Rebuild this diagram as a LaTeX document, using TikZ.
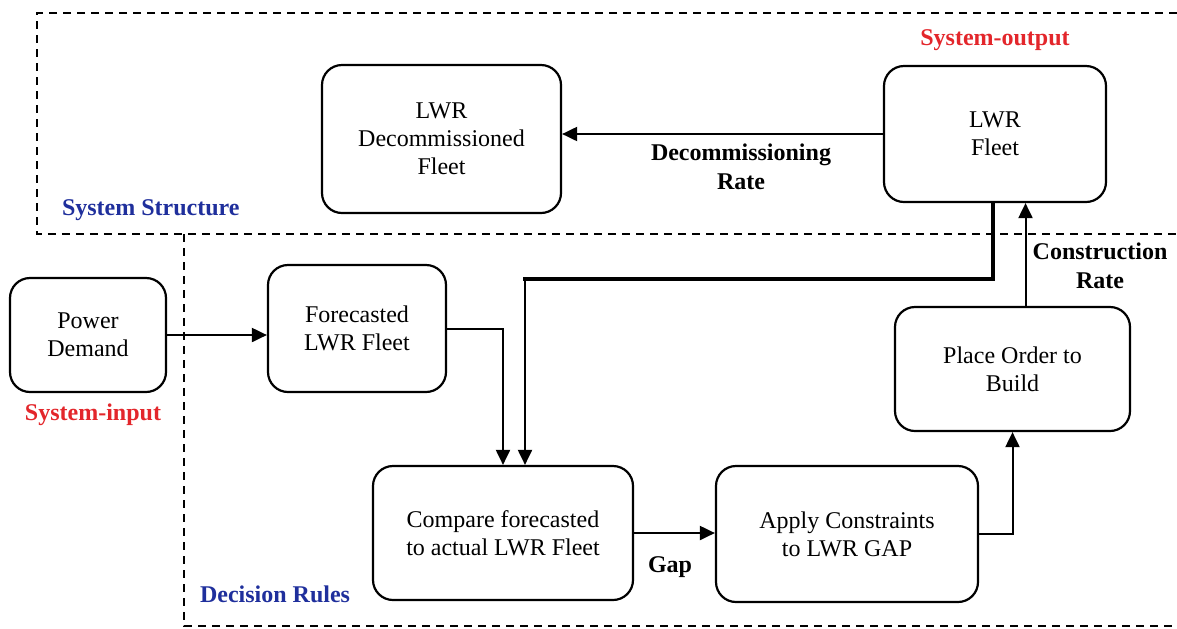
\documentclass[tikz,border=0pt]{standalone}
\usepackage{fontspec}
\setmainfont{Liberation Serif}
\usetikzlibrary{arrows.meta,positioning}
\definecolor{sdRed}{HTML}{E3262B}
\definecolor{sdBlue}{HTML}{1F2F9C}
\tikzset{
  % Stocks and decision steps: plain rounded boxes.
  sd/box/.style={
    draw=black, line width=1.1pt, rounded corners=10pt,
    align=center, inner sep=2pt, font=\fontsize{12}{14}\selectfont
  },
  % Flows between boxes.
  sd/arrow/.style={
    -{Triangle[length=7.5pt,width=7pt]}, line width=1pt, draw=black
  },
  % Feedback of the actual fleet, drawn heavier.
  sd/thick/.style={line width=2.2pt, draw=black},
  % Region borders.
  sd/lane/.style={dash pattern=on 4pt off 3pt, line width=1.3pt},
  % Flow names.
  sd/label/.style={font=\fontsize{12}{14.5}\selectfont\bfseries, align=center},
  % Region names.
  sd/title/.style={font=\fontsize{12}{14}\selectfont\bfseries, anchor=west, text=sdBlue},
}

\begin{document}
\begin{tikzpicture}[x=0.5pt,y=-0.5pt,
  io/.style={font=\fontsize{12}{14}\selectfont\bfseries, text=sdRed}]
  \useasboundingbox (0,0) rectangle (1177,628);
  % regions
  \draw[sd/lane] (1177,13) -- (37,13) -- (37,234) -- (1177,234);
  \draw[sd/lane] (184,234) -- (184,626) -- (1177,626);
  \node[sd/title] (structure) at (55,210) {System Structure};
  \node[sd/title] (rules) at (193,594) {Decision Rules};
  % boxes
  \node[sd/box, minimum width=119.5pt, minimum height=74pt] (decom) at (441.5,139) {LWR\\Decommissioned\\Fleet};
  \node[sd/box, minimum width=111pt, minimum height=68pt] (fleet) at (995,134) {LWR\\Fleet};
  \node[sd/box, minimum width=78pt, minimum height=57pt] (demand) at (88,335) {Power\\Demand};
  \node[sd/box, minimum width=89pt, minimum height=63.5pt] (forecast) at (357,328.5) {Forecasted\\LWR Fleet};
  \node[sd/box, minimum width=130pt, minimum height=67pt] (compare) at (503,533) {Compare forecasted\\to actual LWR Fleet};
  \node[sd/box, minimum width=131pt, minimum height=68pt] (constr) at (847,534) {Apply Constraints\\to LWR GAP};
  \node[sd/box, minimum width=117.5pt, minimum height=62pt] (order) at (1012.5,369) {Place Order to\\Build};
  \node[io] (output) at (995,40) {System-output};
  \node[io] (input) at (93,415) {System-input};
  % flows
  \draw[sd/arrow] (fleet.west) -- (fleet.west -| decom.east);
  \node[sd/label] (decrate) at (741,167) {Decommissioning\\Rate};
  \draw[sd/arrow] (demand.east) -- (demand.east -| forecast.west);
  \draw[sd/arrow] (forecast.east) -| (compare.north);
  \coordinate (bend) at (525,279);
  \draw[sd/thick] ([xshift=-1pt]fleet.south) |- ([xshift=-1.1pt]bend);
  \draw[sd/arrow] (bend) -- (bend |- compare.north);
  \draw[sd/arrow] (compare.east) -- (compare.east -| constr.west);
  \node[sd/label] (gap) at (670,567) {Gap};
  \draw[sd/arrow] (constr.east) -| (order.south);
  \coordinate (up) at ([xshift=6.5pt]order.north);
  \draw[sd/arrow] (up) -- (up |- fleet.south);
  \node[sd/label] (conrate) at (1100,266) {Construction\\Rate};
\end{tikzpicture}
\end{document}
